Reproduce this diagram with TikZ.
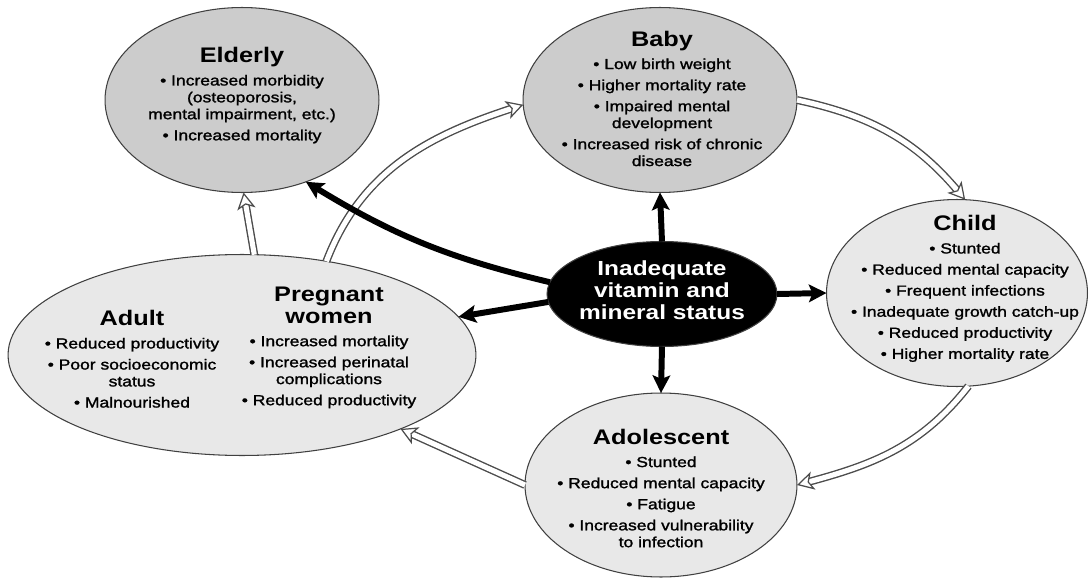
\documentclass[tikz,border=0pt]{standalone}
\usepackage{fontspec}
\setmainfont{Liberation Sans}[FakeStretch=1.2]
\newfontfamily\bodyfont{Liberation Sans}[FakeStretch=1.2,FakeBold=1.5]
\usetikzlibrary{arrows.meta,shapes.geometric,decorations.markings}
\newcommand{\hd}[1]{{\fontsize{12}{12.5}\selectfont\rmfamily\bfseries #1}}

\begin{document}
\begin{tikzpicture}[x=0.02cm,y=-0.02cm,
  stage/.style={draw=black!75,line width=.6pt,ellipse,inner sep=0pt,outer sep=0pt},
  txt/.style={align=center,anchor=north,inner sep=0pt,font=\bodyfont\fontsize{8.3}{9.6}\selectfont},
  hit/.style={line width=3.4pt,-{Stealth[length=10pt,width=10pt,inset=2pt]}},
  pass/.style={line width=4.5pt,draw=black!70,shorten >=6.5pt,
    postaction={draw=white,line width=2.9pt,shorten >=6pt},
    postaction={decorate,decoration={markings,mark=at position 1 with
      {\arrow{Stealth[length=9.5pt,width=10.5pt,inset=2.5pt,line width=.7pt,color=black!70,fill=white]}}}}}]
\useasboundingbox (0,0) rectangle (1090,578);
\node[stage,fill=black!20,minimum width=5.48cm,minimum height=3.7cm] (elderly) at (242,100) {};
\node[stage,fill=black!20,minimum width=5.48cm,minimum height=3.7cm] (baby) at (660,100) {};
\node[stage,fill=black!9,minimum width=5.22cm,minimum height=3.74cm] (child) at (957,293) {};
\node[stage,fill=black!9,minimum width=5.44cm,minimum height=3.68cm] (adolescent) at (661,485) {};
\node[stage,fill=black!9,minimum width=9.36cm,minimum height=4.02cm] (adult) at (242,355) {};
\node[stage,fill=black,minimum width=4.6cm,minimum height=2.1cm] (status) at (662,294) {};

\node[txt] (elderlyTxt) at (242,47) {\hd{Elderly}\\[3.4pt] • Increased morbidity\\ (osteoporosis,\\ mental impairment, etc.)\\[2.4pt] • Increased mortality};
\node[txt] (babyTxt) at (662,30.6) {\hd{Baby}\\[3.4pt] • Low birth weight\\[2.4pt] • Higher mortality rate\\[2.4pt] • Impaired mental\\ development\\[2.4pt] • Increased risk of chronic\\ disease};
\node[txt] (childTxt) at (965,215) {\hd{Child}\\[3.4pt] • Stunted\\[2.4pt] • Reduced mental capacity\\[2.4pt] • Frequent infections\\[2.4pt] • Inadequate growth catch-up\\[2.4pt] • Reduced productivity\\[2.4pt] • Higher mortality rate};
\node[txt] (adolescentTxt) at (661,428.6) {\hd{Adolescent}\\[3.4pt] • Stunted\\[2.4pt] • Reduced mental capacity\\[2.4pt] • Fatigue\\[2.4pt] • Increased vulnerability\\ to infection};
\node[txt] (adultTxt) at (132,310) {\hd{Adult}\\[3.4pt] • Reduced productivity\\[2.4pt] • Poor socioeconomic\\ status\\[2.4pt] • Malnourished};
\node[txt] (pregnantTxt) at (329,286.5) {\hd{Pregnant}\\[2.9pt] \hd{women}\\[3.4pt] • Increased mortality\\[2.4pt] • Increased perinatal\\ complications\\[2.4pt] • Reduced productivity};
\node[txt,text=white,font=\fontsize{11.6}{12.7}\selectfont\bfseries] (statusTxt) at (662,260) {Inadequate\\ vitamin and\\ mineral status};

\draw[pass] (adult.83.6) -- (elderly.-89);
\draw[pass] (adult.48) to[out=69,in=198] (baby.182);
\draw[pass] (baby.east) to[out=-12,in=130] (child.85);
\draw[pass] (child.-83) to[out=-128,in=15] (adolescent.east);
\draw[pass] (adolescent.west) -- (adult.-25);

\draw[hit] (status.north) -- (baby.south);
\draw[hit] (status.south) -- (adolescent.north);
\draw[hit] (status.east) -- (child.west);
\draw[hit] (status.184) -- (adult.10);
\draw[hit] (status.174) to[bend left=9] (elderly.-52);
\end{tikzpicture}
\end{document}
